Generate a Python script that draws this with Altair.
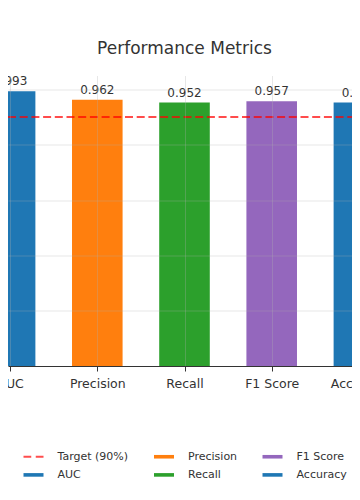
import altair as alt
import pandas as pd

categories = ["AUC", "Precision", "Recall", "F1 Score", "Accuracy"]
values = [0.993, 0.962, 0.952, 0.957, 0.952]
target_value = [0.9]
target_label = "Target (90%)"

# legend entries, filled column by column (3 columns x 2 rows)
legend_order = [target_label, "AUC", "Precision", "Recall", "F1 Score", "Accuracy"]
legend_colors = ["#ff4d4d", "#1f77b4", "#ff7f0e", "#2ca02c", "#9467bd", "#1f77b4"]

y_ticks = [0.2, 0.4, 0.6, 0.8, 1.0]

FONT = "DejaVu Sans"
TXT = "#333333"

DASH = "M-1,-0.22H0.55V0.22H-1Z M1.45,-0.22H3V0.22H1.45Z"
RECT = "M-1,-0.36H3V0.36H-1Z"
legend_shapes = [DASH, RECT, RECT, RECT, RECT, RECT]

bars_df = pd.DataFrame({"metric": categories, "value": values, "i": list(range(len(categories)))})
target_df = pd.DataFrame({"target": target_value})
legend_df = pd.DataFrame({"metric": legend_order})

label_expr = "[" + ",".join("'" + c + "'" for c in categories) + "][datum.value]"

X0, X1 = -0.0241, 4.0126
xscale = alt.Scale(domain=[X0, X1], range=[0, 352], nice=False, zero=False)
yscale = alt.Scale(domain=[0, 1.05], nice=False, zero=True)
cscale = alt.Scale(domain=legend_order, range=legend_colors)

leg = alt.Legend(
    title=None, orient="none", legendX=15, legendY=375.5, columns=3,
    columnPadding=24.5, rowPadding=6.4, symbolSize=100, labelOffset=23.5,
    labelFont=FONT, labelFontSize=11, labelColor=TXT, padding=0,
    symbolStrokeWidth=0, symbolOpacity=1,
)

base = alt.Chart(bars_df)

bars = base.mark_bar().transform_calculate(
    lo=f"max(datum.i - 0.29, {X0})", hi=f"min(datum.i + 0.29, {X1})"
).encode(
    x=alt.X("lo:Q", scale=xscale, title=None,
            axis=alt.Axis(values=[0, 1, 2, 3, 4], labelExpr=label_expr,
                          labelFlush=False, labelOverlap=False,
                          grid=True, gridColor="#b0b0b0", gridOpacity=0.3, gridWidth=1,
                          domainColor=TXT, domainWidth=1, tickColor=TXT, tickSize=5, tickWidth=1,
                          labelFont=FONT, labelFontSize=12.5, labelColor=TXT, labelPadding=6,
                          zindex=1)),
    x2="hi:Q",
    y=alt.Y("value:Q", scale=yscale, title=None,
            axis=alt.Axis(values=y_ticks, grid=True, gridColor="#b0b0b0", gridOpacity=0.3,
                          gridWidth=1, domain=False, ticks=False, labels=False, zindex=1)),
    y2=alt.datum(0),
    color=alt.Color("metric:N", scale=cscale, legend=leg),
)

labels = base.mark_text(font=FONT, fontSize=12, color=TXT, baseline="alphabetic", dy=-6).encode(
    x=alt.X("i:Q", scale=xscale),
    y=alt.Y("value:Q", scale=yscale),
    text=alt.Text("value:Q", format=".3f"),
)

target = alt.Chart(target_df).mark_rule(color="#ff0000", opacity=0.7, strokeDash=[8, 3.7], strokeWidth=2).encode(
    y=alt.Y("target:Q", scale=yscale),
    x=alt.value(0), x2=alt.value(352),
)

# legend carrier (points placed outside the y domain, clipped away)
legend_layer = alt.Chart(legend_df).mark_point(filled=True, clip=True, opacity=1).encode(
    y=alt.datum(-1, scale=yscale),
    color=alt.Color("metric:N", scale=cscale, legend=leg),
    shape=alt.Shape("metric:N", scale=alt.Scale(domain=legend_order, range=legend_shapes), legend=leg),
)

chart = alt.layer(bars, target, labels, legend_layer).properties(
    width=344, height=290.5,
    background="white",
    title=alt.TitleParams("Performance Metrics", font=FONT, fontSize=17, fontWeight="normal",
                          color=TXT, anchor="middle", frame="group", offset=17, dx=4.5),
    autosize=alt.AutoSizeParams(type="none"),
    padding={"left": 0, "top": 67.5, "right": 0, "bottom": 120},
).configure_view(stroke=None)

chart.save("out.html", embed_options={"renderer": "svg", "actions": False})
